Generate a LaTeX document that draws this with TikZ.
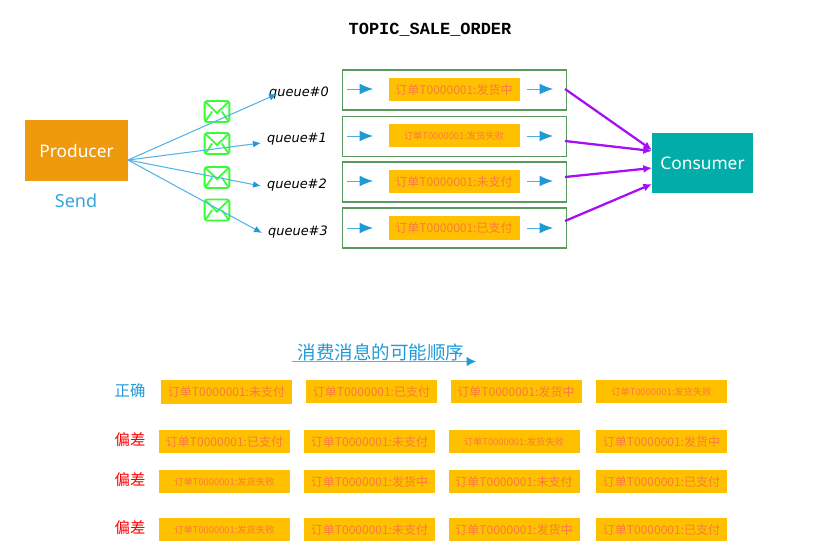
\documentclass[tikz,border=0pt]{standalone}
\usepackage{fontspec}
\setmainfont{Noto Sans}
\newfontfamily\cjk{Noto Sans CJK SC}
\newfontfamily\monob{Liberation Mono}[BoldFont={Liberation Mono Bold}]
\newfontfamily\queuefont{DejaVu Sans}
\usetikzlibrary{arrows.meta,calc}
\definecolor{bluea}{HTML}{1E9BD7}
\definecolor{linea}{HTML}{55B4E4}
\definecolor{amber}{HTML}{FFC000}
\definecolor{redtxt}{HTML}{FA7A3C}
\definecolor{prod}{HTML}{EF9A0D}
\definecolor{cons}{HTML}{00ADA9}
\definecolor{purp}{HTML}{A50FF5}
\definecolor{grn}{HTML}{5B9A5F}
\definecolor{env}{HTML}{33FF33}
\tikzset{
 x=0.75pt,y=-0.75pt,
 order/.style={fill=amber,draw=none,inner sep=0pt,minimum width=98.25pt,minimum height=17.6pt,text=redtxt,font=\cjk\fontsize{9}{10}\selectfont},
 ordersm/.style={order,font=\cjk\fontsize{7}{8}\selectfont},
 qbox/.style={draw=grn,line width=0.8pt,inner sep=0pt,minimum width=168.5pt,minimum height=30pt},
 qlabel/.style={font=\queuefont\fontsize{9.7}{12}\selectfont\itshape,text=black,inner sep=0pt},
 big/.style={inner sep=0pt,text=white,font=\fontsize{13}{16}\selectfont},
 fan/.style={draw=linea,line width=0.8pt,-{Latex[length=6pt,width=5pt,color=bluea]}},
 flow/.style={draw=bluea!80,line width=0.7pt,-{Latex[length=10pt,width=8pt,color=bluea]}},
 feed/.style={draw=purp,line width=1.7pt,-{Latex[length=6.5pt,width=6pt]}},
 rowlab/.style={inner sep=0pt,font=\cjk\fontsize{11.5}{13}\selectfont},
 envbox/.style={draw=env,line width=1.4pt,rounded corners=2pt,fill=white,inner sep=0pt,minimum width=18.6pt,minimum height=15.8pt},
}
\newcommand{\envmark}[1]{%
 \draw[env,line width=1.3pt] ($(#1.north west)+(1.5pt,-1.5pt)$) -- ($(#1.center)+(0,-1.2pt)$) -- ($(#1.north east)+(-1.5pt,-1.5pt)$);
 \draw[env,line width=1.3pt] ($(#1.south west)+(1.5pt,1.5pt)$) -- ($(#1.center)+(-3.6pt,0pt)$);
 \draw[env,line width=1.3pt] ($(#1.south east)+(-1.5pt,1.5pt)$) -- ($(#1.center)+(3.6pt,0pt)$);
}
\begin{document}
\begin{tikzpicture}
\useasboundingbox (0,0) rectangle (817,551);
\node[inner sep=0pt,font=\monob\bfseries\fontsize{12.7}{14}\selectfont] (title) at (430,30) {TOPIC\_SALE\_ORDER};

\node[fill=prod,inner sep=0pt,minimum width=77.25pt,minimum height=45.4pt,big] (producer) at (76.5,150.7) {Producer};
\node[inner sep=0pt,text=bluea!90,font=\fontsize{13.5}{16}\selectfont] (send) at (76,200.5) {Send};
\coordinate (hub) at (128,160);

% queue boxes
\node[qbox] (q0) at (454.5,90) {};
\node[qbox] (q1) at (454.5,136.5) {};
\node[qbox] (q2) at (454.5,182) {};
\node[qbox] (q3) at (454.5,228) {};

\node[order] (o0) at (454,89.5) {订单T0000001:发货中};
\node[ordersm] (o1) at (454,135.5) {订单T0000001:发货失败};
\node[order] (o2) at (454,181.5) {订单T0000001:未支付};
\node[order] (o3) at (454,228) {订单T0000001:已支付};

\foreach \n/\y in {0/89,1/136,2/181,3/228}{
 \coordinate (la\n) at (347,\y); \coordinate (lb\n) at (373,\y);
 \coordinate (ra\n) at (527,\y); \coordinate (rb\n) at (553,\y);
 \draw[flow] (la\n) -- (lb\n);
 \draw[flow] (ra\n) -- (rb\n);
}

% envelopes
\node[envbox] (e0) at (217,111.5) {};
\node[envbox] (e1) at (217,143.5) {};
\node[envbox] (e2) at (217,177.5) {};
\node[envbox] (e3) at (217,210) {};
\envmark{e0}\envmark{e1}\envmark{e2}\envmark{e3}

% queue labels
\node[qlabel] (n0) at (299,93) {queue\#0};
\node[qlabel] (n1) at (297,139.5) {queue\#1};
\node[qlabel] (n2) at (297,185.5) {queue\#2};
\node[qlabel] (n3) at (298,232) {queue\#3};

\coordinate (t0) at (277,94);
\coordinate (t1) at (261,143);
\coordinate (t2) at (261,186);
\coordinate (t3) at (262,233);
\foreach \n in {0,1,2,3}{\draw[fan] (hub) -- (t\n);}

% consumer
\node[fill=cons,inner sep=0pt,minimum width=75.5pt,minimum height=45.7pt,big] (consumer) at (702.5,163) {Consumer};
\coordinate (f0) at (565,89);  \coordinate (c0) at (652,150);
\coordinate (f1) at (565,141); \coordinate (c1) at (652,151);
\coordinate (f2) at (565,177); \coordinate (c2) at (652,168);
\coordinate (f3) at (565,221); \coordinate (c3) at (652,184);
\foreach \n in {0,1,2,3}{\draw[feed] (f\n) -- (c\n);}

% lower part
\node[inner sep=0pt,text=bluea,font=\cjk\fontsize{13.9}{16}\selectfont] (seq) at (381,352.5) {消费消息的可能顺序};
\coordinate (sa) at (292,361.5); \coordinate (sb) at (476,361.5);
\draw[draw=linea,line width=0.8pt,-{Latex[length=7pt,width=7pt,color=bluea]}] (sa) -- (sb);

\node[rowlab,text=bluea] (r1) at (130,391) {正确};
\node[rowlab,text=red] (r2) at (130,440) {偏差};
\node[rowlab,text=red] (r3) at (130,480) {偏差};
\node[rowlab,text=red] (r4) at (130,528) {偏差};

\node[order] (a1) at (226.5,392) {订单T0000001:未支付};
\node[order] (a2) at (371.5,391.5) {订单T0000001:已支付};
\node[order] (a3) at (516,391.5) {订单T0000001:发货中};
\node[ordersm] (a4) at (661.5,391.5) {订单T0000001:发货失败};

\node[order] (b1) at (224.5,441.5) {订单T0000001:已支付};
\node[order] (b2) at (369.5,441.5) {订单T0000001:未支付};
\node[ordersm] (b3) at (514,441.5) {订单T0000001:发货失败};
\node[order] (b4) at (661.5,441.5) {订单T0000001:发货中};

\node[ordersm] (c1n) at (224.5,481.5) {订单T0000001:发货失败};
\node[order] (c2n) at (369.5,481.5) {订单T0000001:发货中};
\node[order] (c3n) at (514,481.5) {订单T0000001:未支付};
\node[order] (c4n) at (661.5,481.5) {订单T0000001:已支付};

\node[ordersm] (d1) at (224.5,529.5) {订单T0000001:发货失败};
\node[order] (d2) at (369.5,529.5) {订单T0000001:未支付};
\node[order] (d3) at (514,529.5) {订单T0000001:发货中};
\node[order] (d4) at (661.5,529.5) {订单T0000001:已支付};
\end{tikzpicture}
\end{document}
